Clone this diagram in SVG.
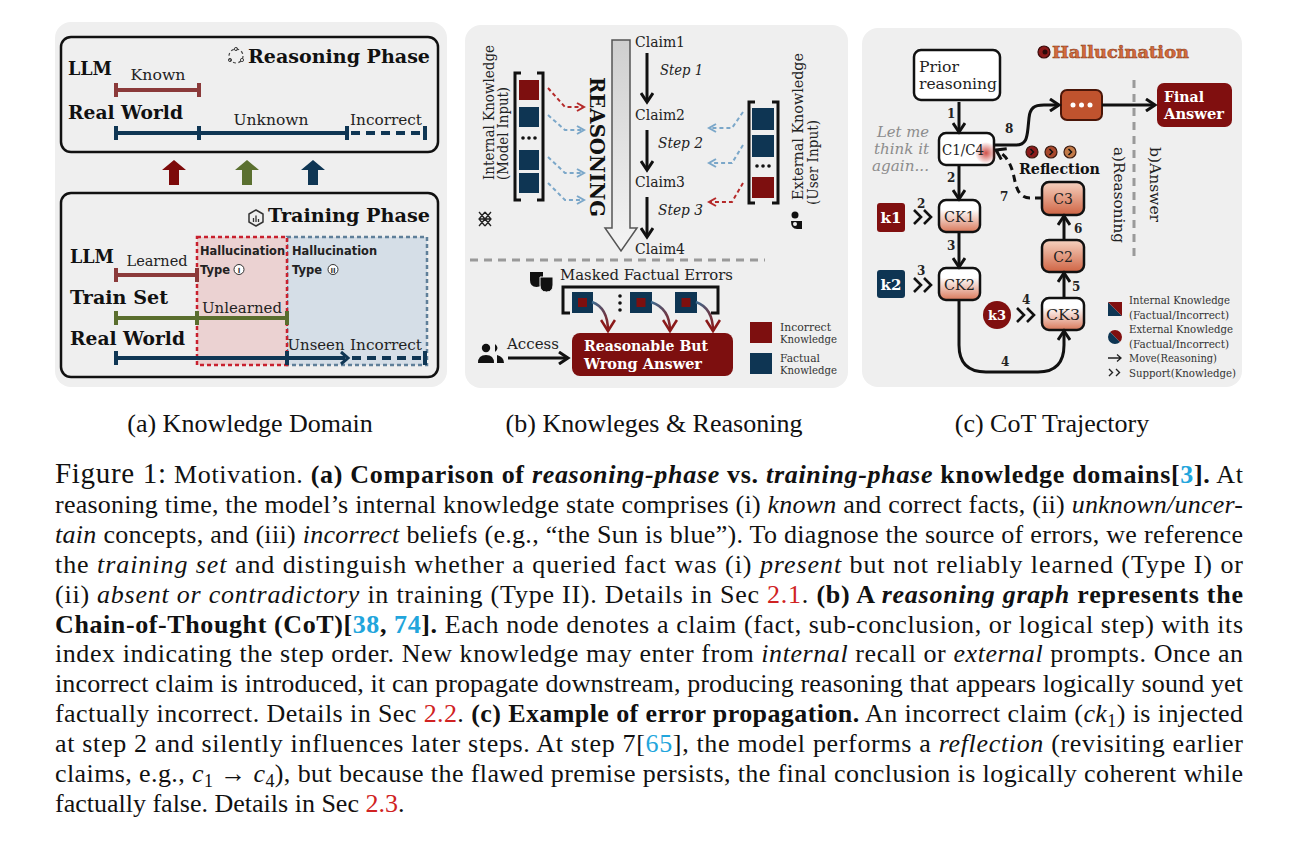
<svg xmlns="http://www.w3.org/2000/svg" width="1298" height="851" viewBox="0 0 1298 851">
<defs>
<style>
.panel{fill:#efefef}
.box{fill:none;stroke:#111;stroke-width:2.5}
.sb{font-family:'DejaVu Serif',serif;font-weight:bold;fill:#111}
.sr{font-family:'DejaVu Serif',serif;fill:#222}
.si{font-family:'DejaVu Serif',serif;font-style:italic;fill:#222}
.hs{font-family:'DejaVu Sans','Liberation Sans',sans-serif;font-weight:bold;fill:#222;font-size:12.5px}
.cap{font-family:'Liberation Serif','Times New Roman',serif;font-size:26px;fill:#111}
.sub{font-family:'Liberation Serif','Times New Roman',serif;font-size:26px;fill:#111}
.b{font-weight:bold}
.i{font-style:italic}
.cite{fill:#22a5dc}
.ref{fill:#d02222}
.llm{stroke:#8b3a3a;stroke-width:4;fill:none}
.rw{stroke:#0f3654;stroke-width:4;fill:none}
.ts{stroke:#5a6e2e;stroke-width:4;fill:none}
.arr{fill:none;stroke:#111;stroke-width:3;marker-end:url(#ah)}
.num{font-family:'DejaVu Serif',serif;font-weight:bold;font-size:12px;fill:#222}
.node{stroke:#111;stroke-width:2.5}
.wt{font-family:'DejaVu Serif',serif;font-weight:bold;fill:#fff}
.lg{font-family:'DejaVu Serif',serif;font-size:10.5px;fill:#333}
.chev{fill:none;stroke:#111;stroke-width:2.6}
</style>
<marker id="ah" viewBox="0 0 14 14" refX="11" refY="7" markerWidth="14" markerHeight="14" markerUnits="userSpaceOnUse" orient="auto"><path d="M2,1 L11,7 L2,13" fill="none" stroke="#111" stroke-width="3"/></marker>
<marker id="ahr" viewBox="0 0 10 10" refX="8" refY="5" markerWidth="10" markerHeight="10" markerUnits="userSpaceOnUse" orient="auto"><path d="M1,1 L8,5 L1,9" fill="none" stroke="#b52a2a" stroke-width="2"/></marker>
<marker id="ahb" viewBox="0 0 10 10" refX="8" refY="5" markerWidth="10" markerHeight="10" markerUnits="userSpaceOnUse" orient="auto"><path d="M1,1 L8,5 L1,9" fill="none" stroke="#7ba7c9" stroke-width="2"/></marker>
<marker id="ahR" viewBox="0 0 16 16" refX="13" refY="8" markerWidth="16" markerHeight="16" markerUnits="userSpaceOnUse" orient="auto"><path d="M2,1 L13,8 L2,15" fill="none" stroke="#8b1a1a" stroke-width="2.6"/></marker>
<linearGradient id="gArrow" x1="0" y1="0" x2="0" y2="1"><stop offset="0" stop-color="#cfcfcf"/><stop offset="1" stop-color="#f4f4f4"/></linearGradient>
<linearGradient id="gCK" x1="0" y1="0" x2="0" y2="1"><stop offset="0.3" stop-color="#ffffff"/><stop offset="1" stop-color="#d9785a"/></linearGradient>
<linearGradient id="gC" x1="0" y1="0" x2="0" y2="1"><stop offset="0" stop-color="#f6d2c0"/><stop offset="1" stop-color="#cf6444"/></linearGradient>
<linearGradient id="gCurve" x1="0" y1="0" x2="1" y2="1"><stop offset="0" stop-color="#3c6d92"/><stop offset="1" stop-color="#8b1a1a"/></linearGradient>
<radialGradient id="glow"><stop offset="0" stop-color="#c8322a" stop-opacity="0.85"/><stop offset="1" stop-color="#c8322a" stop-opacity="0"/></radialGradient>
</defs>

<rect width="1298" height="851" fill="#ffffff"/>

<!-- ================= Panel (a) ================= -->
<g id="panel-a">
<rect class="panel" x="55" y="22" width="392" height="365" rx="16"/>
<g id="reasoning-phase">
<rect class="box" x="61" y="37" width="377" height="115" rx="10"/>
<circle cx="236" cy="56" r="7" fill="none" stroke="#444" stroke-width="1.2" stroke-dasharray="3 2.5"/>
<circle cx="236" cy="49" r="1.6" fill="none" stroke="#444" stroke-width="1"/>
<circle cx="230" cy="60" r="1.6" fill="none" stroke="#444" stroke-width="1"/>
<circle cx="242" cy="60" r="1.6" fill="none" stroke="#444" stroke-width="1"/>
<text class="sb" x="248" y="63" font-size="19" textLength="182" lengthAdjust="spacingAndGlyphs">Reasoning Phase</text>
<text class="sb" x="68" y="75" font-size="18" textLength="44" lengthAdjust="spacingAndGlyphs">LLM</text>
<text class="sr" x="158" y="80" font-size="14" text-anchor="middle" textLength="55" lengthAdjust="spacingAndGlyphs">Known</text>
<path class="llm" d="M116,90 H199 M116,83 V97 M199,83 V97"/>
<text class="sb" x="68" y="119" font-size="18" textLength="115" lengthAdjust="spacingAndGlyphs">Real World</text>
<text class="sr" x="271" y="125" font-size="14" text-anchor="middle" textLength="75" lengthAdjust="spacingAndGlyphs">Unknown</text>
<text class="sr" x="386" y="125" font-size="14" text-anchor="middle" textLength="72" lengthAdjust="spacingAndGlyphs">Incorrect</text>
<path class="rw" d="M116,133 H347 M116,126 V140 M199,126 V140 M347,126 V140 M425,126 V140"/>
<path class="rw" d="M351,133 H425" stroke-dasharray="9 6"/>
</g>
<g id="phase-arrows">
<polygon points="174,160 186,170 179,170 179,185 169,185 169,170 162,170" fill="#7d0a0a"/>
<polygon points="247,160 259,170 252,170 252,185 242,185 242,170 235,170" fill="#5b7030"/>
<polygon points="313,160 325,170 318,170 318,185 308,185 308,170 301,170" fill="#0f3654"/>
</g>
<g id="training-phase">
<rect class="box" x="61" y="193" width="377" height="184" rx="10"/>
<path d="M256,210 L263,214 L263,222 L256,226 L249,222 L249,214 Z" fill="none" stroke="#333" stroke-width="1.5" stroke-linejoin="round"/>
<path d="M253.5,222 V218 M256,222 V215.5 M258.5,222 V219" stroke="#333" stroke-width="1.3"/>
<text class="sb" x="268" y="222" font-size="19" textLength="162" lengthAdjust="spacingAndGlyphs">Training Phase</text>
<rect x="287" y="237" width="140" height="128" fill="#d5dee7" stroke="#5f7f99" stroke-width="2.5" stroke-dasharray="4 3"/>
<rect x="197" y="237" width="90" height="128" fill="#ebd2d2" stroke="#c8202e" stroke-width="2.5" stroke-dasharray="4 3"/>
<text class="hs" x="200" y="255" textLength="85" lengthAdjust="spacingAndGlyphs">Hallucination</text>
<text class="hs" x="200" y="274" textLength="30" lengthAdjust="spacingAndGlyphs">Type</text>
<circle cx="239" cy="269.5" r="5" fill="#fff" stroke="#333" stroke-width="1"/>
<text x="239" y="272.5" font-family="DejaVu Sans,sans-serif" font-size="7" font-weight="bold" text-anchor="middle" fill="#333">I</text>
<text class="hs" x="292" y="255" textLength="85" lengthAdjust="spacingAndGlyphs">Hallucination</text>
<text class="hs" x="292" y="274" textLength="30" lengthAdjust="spacingAndGlyphs">Type</text>
<circle cx="333" cy="269.5" r="5" fill="#fff" stroke="#333" stroke-width="1"/>
<text x="333" y="272.5" font-family="DejaVu Sans,sans-serif" font-size="7" font-weight="bold" text-anchor="middle" fill="#333">II</text>
<text class="sb" x="70" y="263" font-size="18" textLength="44" lengthAdjust="spacingAndGlyphs">LLM</text>
<text class="sr" x="157" y="266" font-size="14" text-anchor="middle" textLength="61" lengthAdjust="spacingAndGlyphs">Learned</text>
<path class="llm" d="M116,275 H197 M116,268 V282 M197,268 V282"/>
<text class="sb" x="70" y="304" font-size="18" textLength="98" lengthAdjust="spacingAndGlyphs">Train Set</text>
<text class="sr" x="242" y="313" font-size="14" text-anchor="middle" textLength="80" lengthAdjust="spacingAndGlyphs">Unlearned</text>
<path class="ts" d="M116,318 H287 M116,311 V325 M197,311 V325 M287,311 V325"/>
<text class="sb" x="70" y="345" font-size="18" textLength="115" lengthAdjust="spacingAndGlyphs">Real World</text>
<text class="sr" x="316" y="350" font-size="14" text-anchor="middle" textLength="57" lengthAdjust="spacingAndGlyphs">Unseen</text>
<text class="sr" x="386" y="350" font-size="14" text-anchor="middle" textLength="72" lengthAdjust="spacingAndGlyphs">Incorrect</text>
<path class="rw" d="M116,358 H345 M116,351 V365 M287,351 V365 M425,351 V365"/>
<path d="M341,352 L348,358 L341,364" fill="none" stroke="#0f3654" stroke-width="3"/>
<path class="rw" d="M352,358 H425" stroke-dasharray="9 6"/>
</g>
</g>

<!-- ================= Panel (b) ================= -->
<g id="panel-b">
<rect class="panel" x="465" y="25" width="383" height="363" rx="16"/>
<g id="reasoning-arrow">
<polygon points="612,40 630,40 630,228 637,228 621,251 605,228 612,228" fill="url(#gArrow)" stroke="#555" stroke-width="1.5"/>
<text class="sb" font-size="21" transform="translate(590,147) rotate(90)" text-anchor="middle" textLength="140" lengthAdjust="spacingAndGlyphs">REASONING</text>
</g>
<g id="claims">
<text class="sr" x="635" y="47" font-size="14" textLength="50" lengthAdjust="spacingAndGlyphs">Claim1</text>
<text class="sr" x="635" y="120" font-size="14" textLength="50" lengthAdjust="spacingAndGlyphs">Claim2</text>
<text class="sr" x="635" y="187" font-size="14" textLength="50" lengthAdjust="spacingAndGlyphs">Claim3</text>
<text class="sr" x="635" y="254" font-size="14" textLength="50" lengthAdjust="spacingAndGlyphs">Claim4</text>
<text class="si" x="660" y="75" font-size="14" textLength="43" lengthAdjust="spacingAndGlyphs">Step 1</text>
<text class="si" x="658" y="148" font-size="14" textLength="45" lengthAdjust="spacingAndGlyphs">Step 2</text>
<text class="si" x="658" y="215" font-size="14" textLength="45" lengthAdjust="spacingAndGlyphs">Step 3</text>
</g>
<g id="internal-knowledge">
<text class="sr" font-size="15" transform="translate(494,180) rotate(-90)" textLength="135" lengthAdjust="spacingAndGlyphs">Internal Knowledge</text>
<text class="sr" font-size="15" transform="translate(508,180) rotate(-90)" textLength="93" lengthAdjust="spacingAndGlyphs">(Model Input)</text>
<path d="M479,212 L485,219 L491,212 M479,212 L491,226 M491,212 L479,226 M485,212 L479,219 L485,226 M485,212 L491,219 L485,226 M479,219 H491" fill="none" stroke="#222" stroke-width="1.3"/>
<path d="M521,73 H515 V200 H521 M537,73 H543 V200 H537" fill="none" stroke="#111" stroke-width="3"/>
<rect x="519" y="80" width="20" height="20" fill="#7d0f0f"/>
<rect x="519" y="107" width="20" height="20" fill="#0e3553"/>
<circle cx="523" cy="138" r="1.8" fill="#111"/><circle cx="529" cy="138" r="1.8" fill="#111"/><circle cx="535" cy="138" r="1.8" fill="#111"/>
<rect x="519" y="150" width="20" height="20" fill="#0e3553"/>
<rect x="519" y="173" width="20" height="20" fill="#0e3553"/>
</g>
<g id="external-knowledge">
<text class="sr" font-size="15" transform="translate(803,200) rotate(-90)" textLength="147" lengthAdjust="spacingAndGlyphs">External Knowledge</text>
<text class="sr" font-size="15" transform="translate(818,205) rotate(-90)" textLength="85" lengthAdjust="spacingAndGlyphs">(User Input)</text>
<g fill="#111"><circle cx="795" cy="215" r="3.5"/><path d="M791,221 Q791,229 797,229 L802,229 L802,221 Z"/><circle cx="795" cy="224" r="2" fill="#efefef"/></g>
<path d="M755,102 H749 V203 H755 M772,102 H778 V203 H772" fill="none" stroke="#111" stroke-width="3"/>
<rect x="752" y="108" width="22" height="22" fill="#0e3553"/>
<rect x="752" y="135" width="22" height="22" fill="#0e3553"/>
<circle cx="757" cy="166" r="1.8" fill="#111"/><circle cx="763" cy="166" r="1.8" fill="#111"/><circle cx="769" cy="166" r="1.8" fill="#111"/>
<rect x="752" y="177" width="22" height="21" fill="#7d0f0f"/>
</g>
<g id="masked-errors">
<text class="sr" x="560" y="280" font-size="15" textLength="173" lengthAdjust="spacingAndGlyphs">Masked Factual Errors</text>
<g fill="#111"><path d="M530,272 H543 V280 Q543,287 536.5,287 Q530,287 530,280 Z"/><path d="M540,277 H553 V285 Q553,292 546.5,292 Q540,292 540,285 Z" stroke="#efefef" stroke-width="1"/></g>
<path d="M570,313 H563 V287 H718 V313 H711" fill="none" stroke="#111" stroke-width="3"/>
<rect x="572" y="292" width="21" height="21" fill="#0e3553"/><rect x="578" y="298" width="9" height="9" fill="#7d0f0f"/>
<circle cx="620" cy="296" r="1.8" fill="#111"/><circle cx="620" cy="303" r="1.8" fill="#111"/><circle cx="620" cy="310" r="1.8" fill="#111"/>
<rect x="630" y="292" width="22" height="21" fill="#0e3553"/><rect x="636.5" y="298" width="9" height="9" fill="#7d0f0f"/>
<rect x="675" y="292" width="22" height="21" fill="#0e3553"/><rect x="681.5" y="298" width="9" height="9" fill="#7d0f0f"/>
</g>
<g id="answer-box">
<rect x="572" y="333" width="161" height="43" rx="8" fill="#7d0f0f"/>
<text class="wt" x="584" y="351" font-size="15" textLength="124" lengthAdjust="spacingAndGlyphs">Reasonable But</text>
<text class="wt" x="584" y="369" font-size="15" textLength="118" lengthAdjust="spacingAndGlyphs">Wrong Answer</text>
</g>
<g id="access">
<text class="sr" x="507" y="349" font-size="15" textLength="52" lengthAdjust="spacingAndGlyphs">Access</text>
<g fill="#111"><circle cx="486" cy="348" r="4.2"/><path d="M478,363 Q478,355 486,355 Q494,355 494,363 Z"/><path d="M492,343.5 A4.5,4.5 0 0,1 492,352.5 A4.5,4.5 0 0,0 492,343.5 Z"/><path d="M495,344 Q500,348 495,352 Z"/><path d="M497,355 Q504,357 504,363 L497,363 Z"/></g>
</g>
<g id="legend-b">
<rect x="750" y="322" width="22" height="21" fill="#7d0f0f"/>
<text class="lg" x="780" y="331" textLength="51" lengthAdjust="spacingAndGlyphs">Incorrect</text>
<text class="lg" x="780" y="343" textLength="57" lengthAdjust="spacingAndGlyphs">Knowledge</text>
<rect x="750" y="353" width="22" height="21" fill="#0e3553"/>
<text class="lg" x="780" y="362" textLength="40" lengthAdjust="spacingAndGlyphs">Factual</text>
<text class="lg" x="780" y="374" textLength="57" lengthAdjust="spacingAndGlyphs">Knowledge</text>
</g>
</g>

<!-- ================= Panel (c) ================= -->
<g id="panel-c">
<rect class="panel" x="862" y="28" width="380" height="359" rx="16"/>
<g id="hallucination-title">
<circle cx="1044" cy="52" r="6" fill="#8b1a1a" stroke="#3a0a0a" stroke-width="1.2"/>
<circle cx="1045" cy="52" r="2.5" fill="#2a0a0a"/>
<text x="1052" y="58" font-family="DejaVu Serif,serif" font-weight="bold" font-size="17" fill="#d46a3c" stroke="#8a3a18" stroke-width="0.5" textLength="137" lengthAdjust="spacingAndGlyphs">Hallucination</text>
</g>
<g id="prior">
<rect x="914" y="50" width="86" height="50" rx="7" fill="#fff" class="node"/>
<text class="sr" x="919" y="72" font-size="15" textLength="40" lengthAdjust="spacingAndGlyphs">Prior</text>
<text class="sr" x="919" y="89" font-size="15" textLength="78" lengthAdjust="spacingAndGlyphs">reasoning</text>
</g>
<g id="c1c4">
<rect x="939" y="133" width="55" height="32" rx="7" fill="#fff" class="node"/>
<circle cx="986" cy="153" r="11" fill="url(#glow)"/>
<text class="sr" x="942" y="155" font-size="14" textLength="42" lengthAdjust="spacingAndGlyphs">C1/C4</text>
<text class="si" x="929" y="137" font-size="14" text-anchor="end" fill="#8c8c8c" style="fill:#8c8c8c" textLength="52" lengthAdjust="spacingAndGlyphs">Let me</text>
<text class="si" x="929" y="154" font-size="14" text-anchor="end" style="fill:#8c8c8c" textLength="55" lengthAdjust="spacingAndGlyphs">think it</text>
<text class="si" x="929" y="171" font-size="14" text-anchor="end" style="fill:#8c8c8c" textLength="57" lengthAdjust="spacingAndGlyphs">again...</text>
</g>
<g id="ck1">
<rect x="939" y="200" width="41" height="32" rx="7" fill="url(#gCK)" class="node"/>
<text class="sr" x="959.5" y="222" font-size="14" text-anchor="middle" textLength="31" lengthAdjust="spacingAndGlyphs">CK1</text>
</g>
<g id="k1">
<rect x="877" y="203" width="28" height="29" rx="3" fill="#800f0f"/>
<text class="wt" x="891" y="223" font-size="15" text-anchor="middle">k1</text>
</g>
<g id="ck2">
<rect x="939" y="268" width="41" height="32" rx="7" fill="url(#gCK)" class="node"/>
<text class="sr" x="959.5" y="290" font-size="14" text-anchor="middle" textLength="31" lengthAdjust="spacingAndGlyphs">CK2</text>
</g>
<g id="k2">
<rect x="877" y="270" width="28" height="28" rx="3" fill="#0e3553"/>
<text class="wt" x="891" y="290" font-size="15" text-anchor="middle">k2</text>
</g>
<g id="k3">
<circle cx="997" cy="315" r="14" fill="#800f0f"/>
<text class="wt" x="997" y="320" font-size="13" text-anchor="middle" font-family="DejaVu Sans,sans-serif">k3</text>
</g>
<g id="ck3">
<rect x="1042" y="298" width="42" height="32" rx="7" fill="url(#gCK)" class="node"/>
<text class="sr" x="1063" y="320" font-size="14" text-anchor="middle" textLength="34" lengthAdjust="spacingAndGlyphs">CK3</text>
</g>
<g id="c2">
<rect x="1042" y="240" width="42" height="32" rx="7" fill="url(#gC)" class="node"/>
<text class="sr" x="1063" y="262" font-size="14" text-anchor="middle">C2</text>
</g>
<g id="c3">
<rect x="1042" y="182" width="42" height="33" rx="7" fill="url(#gC)" class="node"/>
<text class="sr" x="1063" y="204" font-size="14" text-anchor="middle">C3</text>
</g>
<g id="reflection">
<g stroke="#3a1a10" stroke-width="1.2"><circle cx="1032" cy="152" r="6" fill="#8b1a1a"/><circle cx="1051" cy="152" r="6" fill="#a8482c"/><circle cx="1070" cy="152" r="6" fill="#c27a48"/></g>
<path d="M1030.5,149 L1033.5,152 L1030.5,155 M1049.5,149 L1052.5,152 L1049.5,155 M1068.5,149 L1071.5,152 L1068.5,155" fill="none" stroke="#111" stroke-width="1.5"/>
<text class="sb" x="1019" y="174" font-size="15" textLength="81" lengthAdjust="spacingAndGlyphs">Reflection</text>
</g>
<g id="dots-node">
<rect x="1061" y="90" width="41" height="30" rx="6" fill="#c0532e" stroke="#4a1608" stroke-width="2"/>
<circle cx="1073" cy="105" r="2.5" fill="#fff"/><circle cx="1081.5" cy="105" r="2.5" fill="#fff"/><circle cx="1090" cy="105" r="2.5" fill="#fff"/>
</g>
<g id="final-answer">
<rect x="1157" y="83" width="75" height="44" rx="7" fill="#800f0f"/>
<text class="wt" x="1164" y="102" font-size="15" textLength="40" lengthAdjust="spacingAndGlyphs">Final</text>
<text class="wt" x="1164" y="119" font-size="15" textLength="60" lengthAdjust="spacingAndGlyphs">Answer</text>
</g>
<g id="phase-divider">
<path d="M1134,80 V258" stroke="#9a9a9a" stroke-width="3" stroke-dasharray="8 6"/>
<text class="sr" font-size="15" transform="translate(1114,147) rotate(90)" textLength="96" lengthAdjust="spacingAndGlyphs">a)Reasoning</text>
<text class="sr" font-size="15" transform="translate(1150,147) rotate(90)" textLength="75" lengthAdjust="spacingAndGlyphs">b)Answer</text>
</g>
<g id="legend-c">
<polygon points="1108,302 1108,316 1122,316" fill="#0e3553"/>
<polygon points="1108,302 1122,302 1122,316" fill="#800f0f"/>
<text class="lg" x="1129" y="304" textLength="101" lengthAdjust="spacingAndGlyphs">Internal Knowledge</text>
<text class="lg" x="1129" y="319" textLength="100" lengthAdjust="spacingAndGlyphs">(Factual/Incorrect)</text>
<path d="M1110.05,332.05 A7,7 0 0,1 1119.95,341.95 Z" fill="#800f0f"/>
<path d="M1119.95,341.95 A7,7 0 0,1 1110.05,332.05 Z" fill="#0e3553"/>
<text class="lg" x="1129" y="333" textLength="104" lengthAdjust="spacingAndGlyphs">External Knowledge</text>
<text class="lg" x="1129" y="348" textLength="100" lengthAdjust="spacingAndGlyphs">(Factual/Incorrect)</text>
<path d="M1108,358 H1121 M1117,354.5 L1121,358 L1117,361.5" fill="none" stroke="#222" stroke-width="1.3"/>
<text class="lg" x="1129" y="362" textLength="88" lengthAdjust="spacingAndGlyphs">Move(Reasoning)</text>
<path d="M1109,369 L1112.5,372.5 L1109,376 M1116,369 L1119.5,372.5 L1116,376" fill="none" stroke="#222" stroke-width="1.4"/>
<text class="lg" x="1129" y="377" textLength="107" lengthAdjust="spacingAndGlyphs">Support(Knowledge)</text>
</g>
</g>

<!-- ================= Connectors ================= -->
<g id="connectors">
<!-- panel b: reasoning steps -->
<path class="arr" d="M647,53 V102"/>
<path class="arr" d="M647,130 V170"/>
<path class="arr" d="M647,197 V237"/>
<!-- internal knowledge inputs -->
<path d="M548,88 L565,107 L584,107" fill="none" stroke="#b52a2a" stroke-width="2" stroke-dasharray="4 3" marker-end="url(#ahr)"/>
<path d="M548,115 L565,130 L584,130" fill="none" stroke="#7ba7c9" stroke-width="2" stroke-dasharray="4 3" marker-end="url(#ahb)"/>
<path d="M548,157 L565,173 L584,173" fill="none" stroke="#7ba7c9" stroke-width="2" stroke-dasharray="4 3" marker-end="url(#ahb)"/>
<path d="M548,183 L565,200 L584,200" fill="none" stroke="#7ba7c9" stroke-width="2" stroke-dasharray="4 3" marker-end="url(#ahb)"/>
<!-- external knowledge inputs -->
<path d="M743,112 L732,128 L709,128" fill="none" stroke="#7ba7c9" stroke-width="2" stroke-dasharray="4 3" marker-end="url(#ahb)"/>
<path d="M743,145 L732,163 L709,163" fill="none" stroke="#7ba7c9" stroke-width="2" stroke-dasharray="4 3" marker-end="url(#ahb)"/>
<path d="M743,183 L732,202 L709,202" fill="none" stroke="#b52a2a" stroke-width="2" stroke-dasharray="4 3" marker-end="url(#ahr)"/>
<!-- divider -->
<path d="M470,260 H765" stroke="#9a9a9a" stroke-width="3" stroke-dasharray="8 6"/>
<!-- masked errors to answer -->
<path d="M592,302 C603,306 608,316 608,331" fill="none" stroke="url(#gCurve)" stroke-width="2.5" marker-end="url(#ahR)"/>
<path d="M651,302 C663,306 670,316 670,331" fill="none" stroke="url(#gCurve)" stroke-width="2.5" marker-end="url(#ahR)"/>
<path d="M696,302 C707,306 713,316 713,331" fill="none" stroke="url(#gCurve)" stroke-width="2.5" marker-end="url(#ahR)"/>
<!-- access -->
<path class="arr" d="M508,358 H568"/>

<!-- panel c -->
<path class="arr" d="M959,102 V132"/>
<text class="num" x="947" y="118">1</text>
<path class="arr" d="M959,165 V199"/>
<text class="num" x="947" y="182">2</text>
<path class="arr" d="M959,232 V267"/>
<text class="num" x="947" y="250">3</text>
<path class="arr" d="M959,300 V345 Q959,372 986,372 H1038 Q1064,372 1064,345 V331"/>
<text class="num" x="1001" y="366">4</text>
<path class="arr" d="M1064,298 V273"/>
<text class="num" x="1072" y="291">5</text>
<path class="arr" d="M1064,240 V216"/>
<text class="num" x="1074" y="233">6</text>
<path d="M1042,198 L1030,198 C1018,198 1016,186 1014,177 C1011,163 1006,155 996,150" fill="none" stroke="#111" stroke-width="3" stroke-dasharray="7 5" marker-end="url(#ah)"/>
<text class="num" x="1000" y="201">7</text>
<path class="arr" d="M994,145 L1016,145 C1026,145 1027,138 1028,128 L1029,118 C1030,108 1034,105 1044,105 L1059,105"/>
<text class="num" x="1005" y="133">8</text>
<path class="arr" d="M1102,105 H1155"/>
<!-- support chevrons -->
<path class="chev" d="M914,210 L921,217 L914,224 M924,210 L931,217 L924,224"/>
<text class="num" x="917" y="208">2</text>
<path class="chev" d="M914,278 L921,285 L914,292 M924,278 L931,285 L924,292"/>
<text class="num" x="917" y="275">3</text>
<path class="chev" d="M1017,308 L1024,315 L1017,322 M1027,308 L1034,315 L1027,322"/>
<text class="num" x="1022" y="304">4</text>
</g>

<!-- ================= Sub-captions ================= -->
<g id="subcaptions">
<text class="sub" x="250" y="432" text-anchor="middle">(a) Knowledge Domain</text>
<text class="sub" x="654" y="432" text-anchor="middle">(b) Knowleges &amp; Reasoning</text>
<text class="sub" x="1052" y="432" text-anchor="middle">(c) CoT Trajectory</text>
</g>

<!-- ================= Caption ================= -->
<g id="caption">
<text class="cap" x="55" y="483" textLength="1188" lengthAdjust="spacing"><tspan font-size="29">Figure 1:</tspan> Motivation. <tspan class="b">(a) Comparison of <tspan class="i">reasoning-phase</tspan> vs. <tspan class="i">training-phase</tspan> knowledge domains[<tspan class="cite">3</tspan>].</tspan>  At</text>
<text class="cap" x="55" y="513" textLength="1188" lengthAdjust="spacing">reasoning time, the model’s internal knowledge state comprises (i) <tspan class="i">known</tspan> and correct facts, (ii) <tspan class="i">unknown/uncer-</tspan></text>
<text class="cap" x="55" y="543" textLength="1188" lengthAdjust="spacing"><tspan class="i">tain</tspan> concepts, and (iii) <tspan class="i">incorrect</tspan> beliefs (e.g., “the Sun is blue”). To diagnose the source of errors, we reference</text>
<text class="cap" x="55" y="573" textLength="1188" lengthAdjust="spacing">the <tspan class="i">training set</tspan> and distinguish whether a queried fact was (i) <tspan class="i">present</tspan> but not reliably learned (Type I) or</text>
<text class="cap" x="55" y="603" textLength="1188" lengthAdjust="spacing">(ii) <tspan class="i">absent or contradictory</tspan> in training (Type II). Details in Sec <tspan class="ref">2.1</tspan>. <tspan class="b">(b) A <tspan class="i">reasoning graph</tspan> represents the</tspan></text>
<text class="cap" x="55" y="633" textLength="1188" lengthAdjust="spacing"><tspan class="b">Chain-of-Thought (CoT)[<tspan class="cite">38</tspan>, <tspan class="cite">74</tspan>].</tspan> Each node denotes a claim (fact, sub-conclusion, or logical step) with its</text>
<text class="cap" x="55" y="662" textLength="1188" lengthAdjust="spacing">index indicating the step order. New knowledge may enter from <tspan class="i">internal</tspan> recall or <tspan class="i">external</tspan> prompts. Once an</text>
<text class="cap" x="55" y="692" textLength="1188" lengthAdjust="spacing">incorrect claim is introduced, it can propagate downstream, producing reasoning that appears logically sound yet</text>
<text class="cap" x="55" y="722" textLength="1188" lengthAdjust="spacing">factually incorrect. Details in Sec <tspan class="ref">2.2</tspan>. <tspan class="b">(c) Example of error propagation.</tspan> An incorrect claim (<tspan class="i">ck</tspan><tspan font-size="18" dy="5">1</tspan><tspan dy="-5">) is injected</tspan></text>
<text class="cap" x="55" y="752" textLength="1188" lengthAdjust="spacing">at step 2 and silently influences later steps.  At step 7[<tspan class="cite">65</tspan>], the model performs a <tspan class="i">reflection</tspan> (revisiting earlier</text>
<text class="cap" x="55" y="782" textLength="1188" lengthAdjust="spacing">claims, e.g., <tspan class="i">c</tspan><tspan font-size="18" dy="5">1</tspan><tspan dy="-5"> → </tspan><tspan class="i">c</tspan><tspan font-size="18" dy="5">4</tspan><tspan dy="-5">), but because the flawed premise persists, the final conclusion is logically coherent while</tspan></text>
<text class="cap" x="55" y="812">factually false. Details in Sec <tspan class="ref">2.3</tspan>.</text>
</g>
</svg>
